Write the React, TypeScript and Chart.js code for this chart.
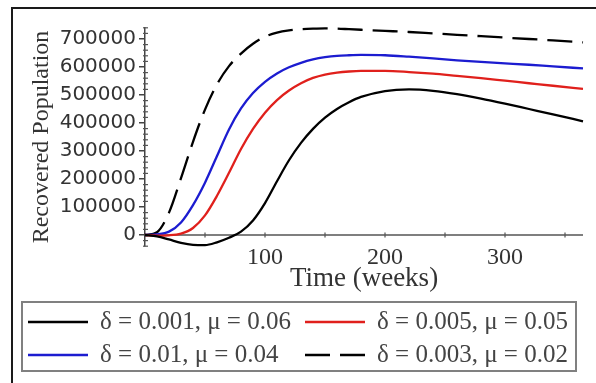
import { useEffect, useRef } from "react";
import { Chart, registerables } from "chart.js";

Chart.register(...registerables);

// ---- data ----
const weeks = [0, 10, 20, 30, 40, 50, 60, 70, 80, 90, 100, 110, 120, 130, 140, 150, 160, 170, 180, 200, 220, 240, 260, 280, 300, 320, 340, 365];

const seriesLabels = [
  "δ = 0.001, μ = 0.06",
  "δ = 0.005, μ = 0.05",
  "δ = 0.01, μ = 0.04",
  "δ = 0.003, μ = 0.02",
];

const recoveredD001 = [0, -5000, -16000, -28000, -35000, -36000, -26000, -10000, 12000, 52000, 114000, 192000, 267000, 329000, 379000, 419000, 450000, 474000, 493000, 514000, 520000, 515000, 503000, 487000, 469000, 450000, 431000, 406000];
const recoveredD005 = [0, -2000, -1000, 5000, 25000, 70000, 140000, 222000, 307000, 379000, 437000, 482000, 516000, 542000, 561000, 573000, 580000, 584000, 586000, 586000, 582000, 576000, 568000, 560000, 551000, 542000, 533000, 522000];
const recoveredD01 = [0, 2000, 12000, 45000, 107000, 187000, 282000, 377000, 452000, 507000, 547000, 577000, 599000, 615000, 627000, 635000, 640000, 642000, 643000, 642000, 637000, 631000, 624000, 618000, 613000, 608000, 602000, 595000];
const recoveredD003 = [0, 10000, 80000, 203000, 333000, 448000, 538000, 603000, 648000, 683000, 708000, 723000, 731000, 735000, 737000, 738000, 737000, 735000, 733000, 729000, 725000, 720000, 715000, 710000, 705000, 700000, 695000, 688000];

const xTicks = [100, 200, 300];
const xMinorTicks = [50, 100, 150, 200, 250, 300, 350];
const yTicks = [0, 100000, 200000, 300000, 400000, 500000, 600000, 700000];
const yMinorStep = 20000;

const seriesColors = ["#000000", "#e0201c", "#1c1cd0", "#000000"];

const decorPlugin = {
  id: "decor",
  beforeDraw(chart: any) {
    const ctx = chart.ctx;
    ctx.save();
    ctx.fillStyle = "#ffffff";
    ctx.fillRect(0, 0, chart.width, chart.height);
    ctx.restore();
  },
  beforeDatasetsDraw(chart: any) {
    const { ctx, chartArea, scales } = chart;
    const xs = scales.x;
    const ys = scales.y;
    const y0 = ys.getPixelForValue(0);
    ctx.save();
    ctx.strokeStyle = "#555";
    ctx.lineWidth = 1.5;
    ctx.beginPath();
    ctx.moveTo(chartArea.left, y0);
    ctx.lineTo(chartArea.right, y0);
    ctx.stroke();
    ctx.lineWidth = 1.2;
    for (const t of xMinorTicks) {
      const px = xs.getPixelForValue(t);
      ctx.beginPath();
      ctx.moveTo(px, y0 - 2.5);
      ctx.lineTo(px, y0 + 2.5);
      ctx.stroke();
    }
    const yMin = ys.min;
    const yMax = ys.max;
    for (let v = Math.ceil(yMin / yMinorStep) * yMinorStep; v <= yMax; v += yMinorStep) {
      if (yTicks.includes(v)) continue;
      const py = ys.getPixelForValue(v);
      ctx.beginPath();
      ctx.moveTo(chartArea.left - 2, py);
      ctx.lineTo(chartArea.left + 3, py);
      ctx.stroke();
    }
    ctx.restore();
  },
  afterDraw(chart: any) {
    const ctx = chart.ctx;
    ctx.save();
    ctx.strokeStyle = "#1a1a1a";
    ctx.lineWidth = 2;
    ctx.beginPath();
    ctx.moveTo(12, chart.height);
    ctx.lineTo(12, 8);
    ctx.lineTo(chart.width, 8);
    ctx.stroke();

    ctx.strokeStyle = "#808080";
    ctx.lineWidth = 2;
    ctx.strokeRect(22, 302, 554, 69);

    const rowsY = [322, 355];
    const colsX = [28, 305];
    ctx.font = "25px 'Liberation Serif'";
    ctx.textBaseline = "middle";
    ctx.textAlign = "left";
    chart.data.datasets.forEach((ds: any, i: number) => {
      const row = Math.floor(i / 2);
      const col = i % 2;
      const lx = colsX[col];
      const ly = rowsY[row];
      ctx.save();
      ctx.strokeStyle = ds.borderColor;
      ctx.lineWidth = 2.5;
      ctx.setLineDash(ds.borderDash || []);
      ctx.beginPath();
      ctx.moveTo(lx, ly);
      ctx.lineTo(lx + 60, ly);
      ctx.stroke();
      ctx.restore();
      ctx.fillStyle = "#444";
      ctx.fillText(ds.label, lx + 72, ly);
    });
    ctx.restore();
  },
};

export default function App() {
  const canvasRef = useRef<HTMLCanvasElement | null>(null);

  useEffect(() => {
    if (!canvasRef.current) return;
    const series = [recoveredD001, recoveredD005, recoveredD01, recoveredD003];
    const chart = new Chart(canvasRef.current, {
      type: "line",
      data: {
        datasets: series.map((vals, i) => ({
          label: seriesLabels[i],
          data: weeks.map((w, j) => ({ x: w, y: vals[j] })),
          borderColor: seriesColors[i],
          borderWidth: 2.3,
          borderDash: i === 3 ? [25, 10] : [],
          pointRadius: 0,
          fill: false,
          cubicInterpolationMode: "monotone" as const,
          clip: false as any,
        })),
      },
      options: {
        animation: false,
        responsive: false,
        layout: { padding: { left: 0, right: 13, top: 27.8, bottom: 87.4 } },
        plugins: {
          legend: { display: false },
          tooltip: { enabled: false },
        },
        scales: {
          x: {
            type: "linear",
            min: 0,
            max: 365,
            afterBuildTicks: (s: any) => {
              s.ticks = xTicks.map((v) => ({ value: v }));
            },
            afterFit: (s: any) => {
              s.height = 49.4;
            },
            grid: { display: false, drawTicks: false },
            border: { display: false },
            ticks: {
              font: { family: "Liberation Serif", size: 24 },
              color: "#333",
              padding: -3,
              maxRotation: 0,
              autoSkip: false,
              callback: (v: any) => String(v),
            },
            title: {
              display: true,
              text: "Time (weeks)",
              font: { family: "Liberation Serif", size: 27 },
              color: "#333",
              padding: { top: 0, bottom: 0 },
            },
          },
          y: {
            type: "linear",
            min: -40000,
            max: 740000,
            afterBuildTicks: (s: any) => {
              s.ticks = yTicks.map((v) => ({ value: v }));
            },
            afterFit: (s: any) => {
              s.width = 145;
            },
            grid: { drawOnChartArea: false, drawTicks: true, tickLength: 6, color: "#444", lineWidth: 1.5 },
            border: { display: true, color: "#444", width: 1.5 },
            ticks: {
              font: { family: "DejaVu Sans", size: 20 },
              color: "#333",
              padding: 3,
              autoSkip: false,
              callback: (v: any) => String(v),
            },
            title: {
              display: true,
              text: "Recovered Population",
              font: { family: "Liberation Serif", size: 24 },
              color: "#333",
              padding: { top: 27.6, bottom: 0 },
            },
          },
        },
      },
      plugins: [decorPlugin],
    });
    return () => chart.destroy();
  }, []);

  return (
    <div style={{ position: "fixed", left: 0, top: 0, width: 596, height: 383, background: "#fff" }}>
      <canvas ref={canvasRef} width={596} height={383} style={{ display: "block", width: 596, height: 383 }} />
    </div>
  );
}
